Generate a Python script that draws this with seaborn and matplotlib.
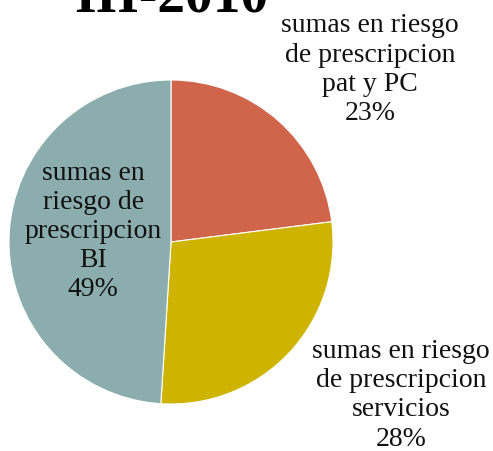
import numpy as np
import matplotlib
matplotlib.use("Agg")
import matplotlib.pyplot as plt
import seaborn as sns

sns.set_theme(style="white")
plt.rcParams['font.family'] = ['Liberation Serif', 'DejaVu Serif']

categorias = ["sumas en riesgo\nde prescripcion\npat y PC",
              "sumas en riesgo\nde prescripcion\nservicios",
              "sumas en\nriesgo de\nprescripcion\nBI"]
porcentajes = [23, 28, 49]
colores = ["#D0654B", "#CEB400", "#8BADAE"]
titulo = "III-2010"

fig = plt.figure(figsize=(4.93, 4.52), dpi=100)
ax = fig.add_axes([9/493, 47/452, 324/493, 324/452])

wedges, _ = ax.pie(porcentajes, colors=colores, startangle=90, counterclock=False,
                   radius=1, wedgeprops=dict(edgecolor="white", linewidth=0.8))
ax.set_xlim(-1, 1)
ax.set_ylim(-1, 1)
ax.set_axis_off()

# posiciones de las etiquetas (en unidades del radio)
pos = [(1.228, 1.07), (1.42, -0.94), (-0.48, 0.071)]
for (x, y), cat, p in zip(pos, categorias, porcentajes):
    ax.text(x, y, f"{cat}\n{p}%", ha="center", va="center", fontsize=20,
            linespacing=1.22, color="#111111", clip_on=False)

fig.text(171/493, 1 - 11/452, titulo, ha="center", va="baseline",
         fontsize=40, fontweight="bold", color="black")

fig.savefig("out.png", dpi=100)
